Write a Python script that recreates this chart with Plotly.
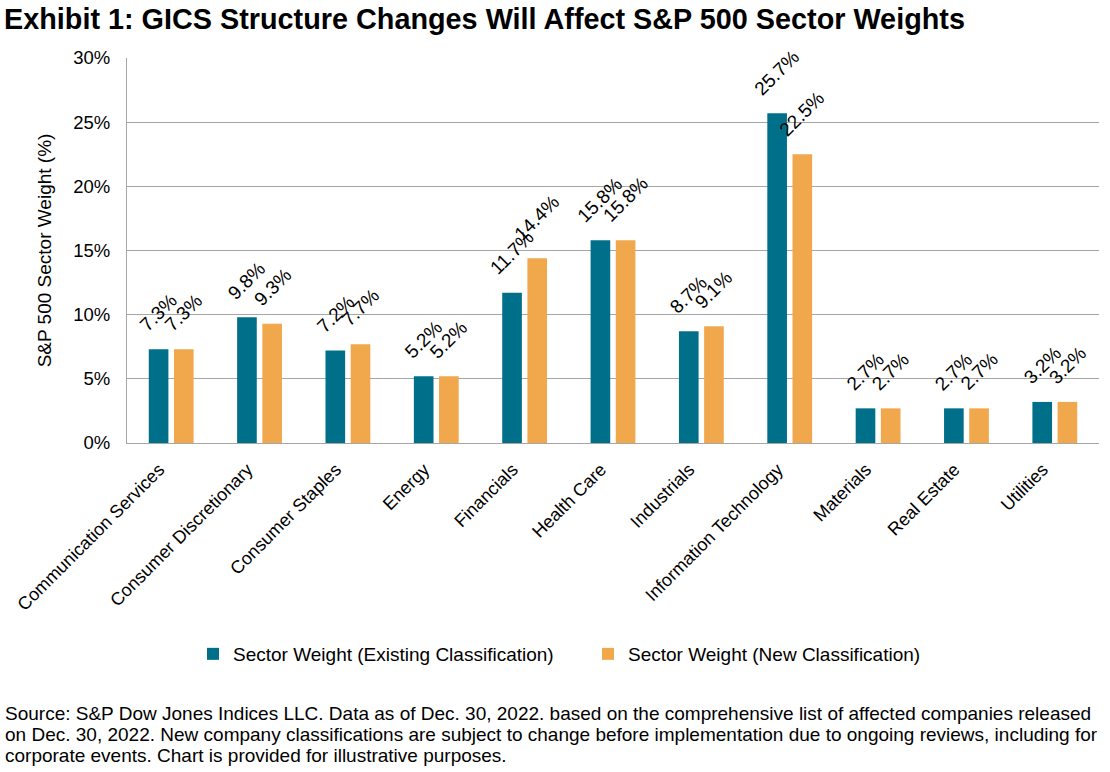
import plotly.graph_objects as go

categories = ["Communication Services", "Consumer Discretionary", "Consumer Staples", "Energy",
              "Financials", "Health Care", "Industrials", "Information Technology",
              "Materials", "Real Estate", "Utilities"]
existing = [7.3, 9.8, 7.2, 5.2, 11.7, 15.8, 8.7, 25.7, 2.7, 2.7, 3.2]
new = [7.3, 9.3, 7.7, 5.2, 14.4, 15.8, 9.1, 22.5, 2.7, 2.7, 3.2]
series_names = ["Sector Weight (Existing Classification)", "Sector Weight (New Classification)"]
colors = ["#00708A", "#F1A74B"]
yticks = [0, 5, 10, 15, 20, 25, 30]
footnote_lines = [
    "Source: S&P Dow Jones Indices LLC. Data as of Dec. 30, 2022. based on the comprehensive list of affected companies released",
    "on Dec. 30, 2022. New company classifications are subject to change before implementation due to ongoing reviews, including for",
    "corporate events. Chart is provided for illustrative purposes.",
]

FONT = "Liberation Sans, Arial, sans-serif"
W, H = 1110, 772
ML, MR, MT, MB = 127, 11, 58, 329
PW, PH = W - ML - MR, H - MT - MB


def py(px):
    # pixel y (from top) -> paper y
    return (H - MB - px) / PH


def pxx(px):
    return (px - ML) / PW


fig = go.Figure()
offsets = [-12.6, 12.6]
for name, vals, col, off in zip(series_names, [existing, new], colors, offsets):
    fig.add_trace(go.Bar(x=categories, y=vals, name=name, marker_color=col, marker_line_width=0))
    for c, v in zip(categories, vals):
        fig.add_annotation(x=c, y=v, xref="x", yref="y", text=f"{v:.1f}%", textangle=-45,
                           showarrow=False, xanchor="center", yanchor="bottom",
                           xshift=off, yshift=11,
                           font=dict(size=19, family=FONT, color="#000000"))

fig.update_layout(
    width=W, height=H,
    paper_bgcolor="white", plot_bgcolor="white",
    font=dict(family=FONT, color="#000000"),
    margin=dict(l=ML, r=MR, t=MT, b=MB, autoexpand=False),
    barmode="group", bargap=0.43, bargroupgap=0.22,
    title=dict(text="<b>Exhibit 1: GICS Structure Changes Will Affect S&P 500 Sector Weights</b>",
               x=4 / W, xanchor="left", y=1 - 19 / H, yanchor="middle",
               font=dict(size=28.8, family=FONT, color="#000000")),
    legend=dict(orientation="h", x=pxx(193), xanchor="left", y=py(654), yanchor="middle",
                font=dict(size=19, family=FONT), traceorder="normal", itemwidth=30,
                entrywidth=350, entrywidthmode="pixels"),
    showlegend=True,
)
fig.update_yaxes(range=[0, 30], tickvals=yticks, ticktext=[f"{t}%" for t in yticks],
                 showgrid=True, gridcolor="#A6A6A6", gridwidth=1,
                 showline=True, linecolor="#A6A6A6", linewidth=1,
                 tickfont=dict(size=18.5), ticks="", zeroline=False, ticklabelstandoff=12,
                 automargin=False,
                 title=dict(text="S&P 500 Sector Weight (%)", font=dict(size=19), standoff=16))
fig.update_xaxes(tickangle=-45, tickfont=dict(size=18), showline=True, linecolor="#A6A6A6",
                 linewidth=1, ticks="", showgrid=False, ticklabelstandoff=8, ticklabelshift=-12,
                 automargin=False)

for i, line in enumerate(footnote_lines):
    fig.add_annotation(text=line, xref="paper", yref="paper", x=pxx(3), y=py(713 + 21.3 * i),
                       xanchor="left", yanchor="middle", align="left", showarrow=False,
                       font=dict(size=19, family=FONT, color="#000000"))

fig.write_html("out.html", config={"displayModeBar": False},
               post_script="document.body.style.margin='0px';")
